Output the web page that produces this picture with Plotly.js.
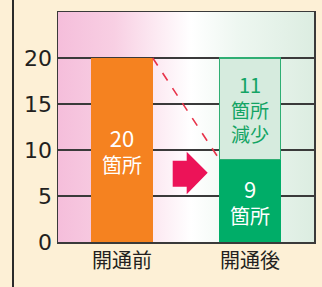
<!DOCTYPE html>
<html>
<head>
<meta charset="utf-8">
<script src="https://cdn.plot.ly/plotly-3.0.1.min.js"></script>
<style>
  html, body { margin: 0; padding: 0; }
  body { width: 322px; height: 287px; background: #fdf0d6; position: relative; overflow: hidden; }
  #edge { position: absolute; left: 12px; top: 0; width: 2px; height: 287px; background: #2b2b2b; }
  #grad { position: absolute; left: 58px; top: 12px; width: 256px; height: 230px;
          background: linear-gradient(to right, #f5bedb 0%, #f8cfe3 22%, #fce9f2 38%, #ffffff 52%, #eef7f1 70%, #dcede1 100%); }
  #chart { position: absolute; left: 0; top: 0; width: 322px; height: 287px; }
</style>
</head>
<body>
<div id="edge"></div>
<div id="grad"></div>
<div id="chart"></div>
<script>
const categories = ['開通前', '開通後'];
const remaining = [20, 9];          // 箇所 (bottom segment)
const reduced = [0, 11];            // 減少した箇所 (top segment)
const remainingUnit = '箇所';
const reducedUnit = '箇所<br>減少';
const yTicks = [0, 5, 10, 15, 20];

const barWidth = 0.48;
const font = '"Noto Sans CJK JP", "Noto Sans", sans-serif';
const numFont = '"DejaVu Sans", sans-serif';
const num = (v, s) => '<span style="font-size:' + s + 'px">' + v + '</span>';

const traces = [
  {
    type: 'bar', x: [0, 1], y: remaining, width: barWidth,
    marker: { color: ['#f58220', '#00ad68'], line: { width: 0 } },
    text: remaining.map(v => num(v, 22) + '<br>' + remainingUnit),
    textposition: 'inside', insidetextanchor: 'middle',
    constraintext: 'none', textangle: 0,
    textfont: { family: font, size: 20, color: '#ffffff' },
    hoverinfo: 'skip'
  },
  {
    type: 'bar', x: [0, 1], y: reduced, width: barWidth,
    marker: { color: '#d6ebde', line: { width: reduced.map(v => v > 0 ? 1.2 : 0), color: '#2fae73' } },
    text: reduced.map(v => v > 0 ? num(v, 20) + '<br>' + reducedUnit : ''),
    textposition: 'inside', insidetextanchor: 'middle',
    constraintext: 'none', textangle: 0,
    textfont: { family: font, size: 19, color: '#13a464' },
    hoverinfo: 'skip'
  }
];

// Paper-coord helpers for the decorative arrow
const px = v => (v - 58) / 256;
const py = v => (242 - v) / 230;
const arrowPath = 'M ' + px(172.7) + ' ' + py(160.7) +
  ' L ' + px(186.7) + ' ' + py(160.7) +
  ' L ' + px(186.7) + ' ' + py(151.7) +
  ' L ' + px(207.7) + ' ' + py(172.7) +
  ' L ' + px(186.7) + ' ' + py(194.3) +
  ' L ' + px(186.7) + ' ' + py(186.7) +
  ' L ' + px(172.7) + ' ' + py(186.7) + ' Z';

const layout = {
  width: 322, height: 287,
  margin: { l: 58, r: 8, t: 12, b: 45, pad: 0 },
  paper_bgcolor: 'rgba(0,0,0,0)',
  plot_bgcolor: 'rgba(0,0,0,0)',
  barmode: 'stack',
  showlegend: false,
  xaxis: {
    range: [-0.5, 1.5],
    tickmode: 'array', tickvals: [0, 1], ticktext: categories,
    showgrid: false, zeroline: false,
    showline: true, mirror: true, linecolor: '#3a3a3a', linewidth: 1.5,
    ticks: '', ticklen: 0,
    tickfont: { family: font, size: 20, color: '#231f20' },
    fixedrange: true
  },
  yaxis: {
    range: [0, 25],
    tickmode: 'array', tickvals: yTicks, ticktext: yTicks.map(String),
    showgrid: true, gridcolor: '#3a3a3a', gridwidth: 1.5,
    zeroline: false,
    showline: true, mirror: true, linecolor: '#3a3a3a', linewidth: 1.5,
    ticks: '', ticklabelstandoff: 0,
    tickfont: { family: numFont, size: 22, color: '#231f20' },
    fixedrange: true
  },
  shapes: [
    {
      type: 'line', xref: 'x', yref: 'y',
      x0: 0 + barWidth / 2, y0: remaining[0],
      x1: 1 - barWidth / 2, y1: remaining[1],
      line: { color: '#e8334a', width: 1.6, dash: 'dash' },
      layer: 'above'
    },
    {
      type: 'path', xref: 'paper', yref: 'paper',
      path: arrowPath,
      fillcolor: '#ec1358', line: { width: 0 },
      layer: 'above'
    }
  ]
};

Plotly.newPlot('chart', traces, layout, { staticPlot: true, displayModeBar: false });
</script>
</body>
</html>
